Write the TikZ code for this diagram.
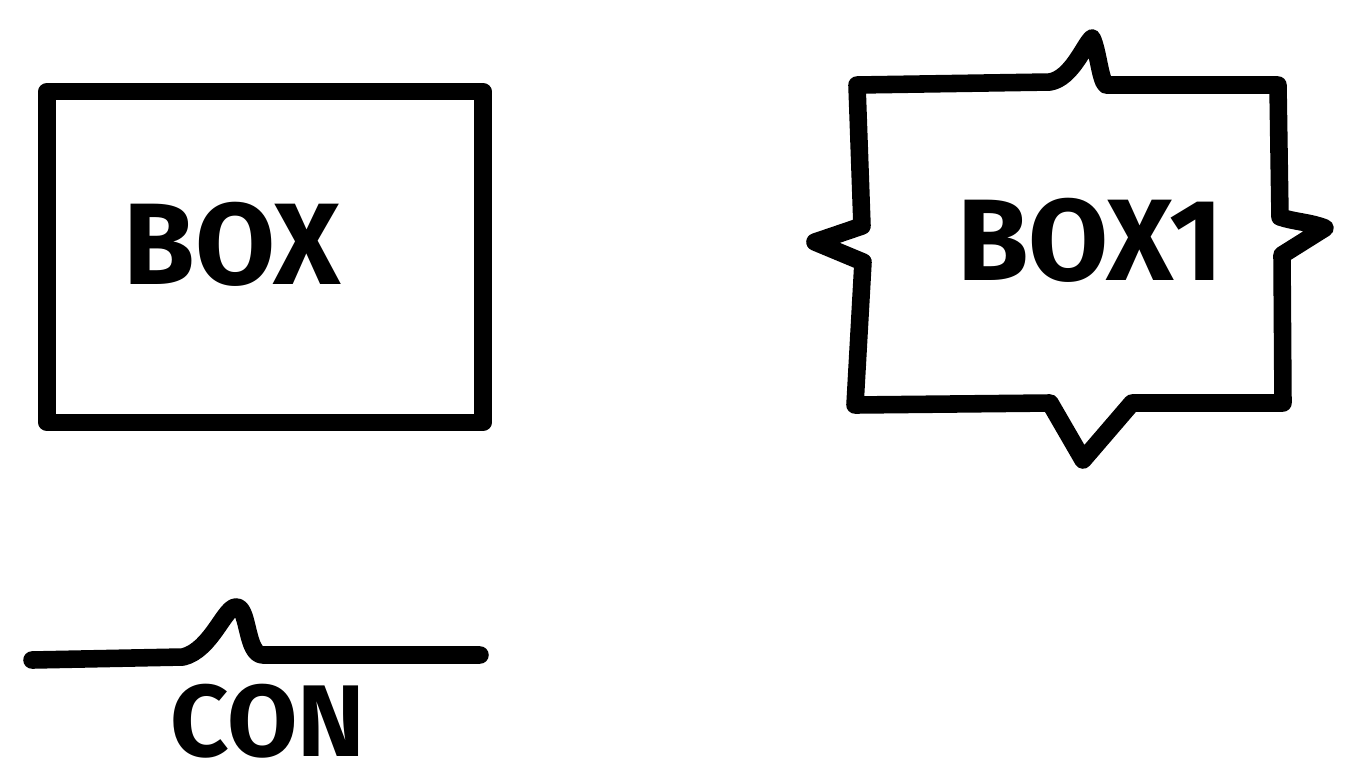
\documentclass[tikz,border=0pt]{standalone}
\usepackage{fontspec}
\setmainfont{Fira Sans}
\usetikzlibrary{positioning}

\begin{document}
\begin{tikzpicture}[x=0.02cm,y=-0.02cm,line width=10pt,line join=round,line cap=round,
  lbl/.style={font=\fontsize{66}{66}\selectfont\bfseries,inner sep=0pt}]
  \useasboundingbox (0,0) rectangle (1347,769);
  % plain box
  \node[draw,minimum width=8.72cm,minimum height=6.62cm] (box) at (265,257) {};
  \node[lbl] (boxlbl) at (232,244) {BOX};
  % box with spikes
  \node[lbl] (spklbl) at (1090,240) {BOX1};
  \draw (857,85) -- (1050,82) .. controls (1072,78) and (1084,45) .. (1092,38)
    .. controls (1098,50) and (1100,80) .. (1106,85) -- (1278,85)
    -- (1280,217) .. controls (1295,222) and (1310,222) .. (1325,228)
    -- (1282,255) -- (1283,403) -- (1132,403) -- (1083,460) -- (1050,403)
    -- (855,405) -- (863,262) -- (815,242) -- (862,226) -- cycle;
  % connector with bump
  \coordinate (conL) at (32,660);
  \coordinate (conR) at (480,655);
  \draw (conL) -- (183,657) .. controls (212,650) and (225,605) .. (237,607)
    .. controls (249,609) and (246,655) .. (263,655) -- (conR);
  \node[lbl,font=\fontsize{58}{58}\selectfont\bfseries] (conlbl) at (268,721) {CON};
\end{tikzpicture}
\end{document}
